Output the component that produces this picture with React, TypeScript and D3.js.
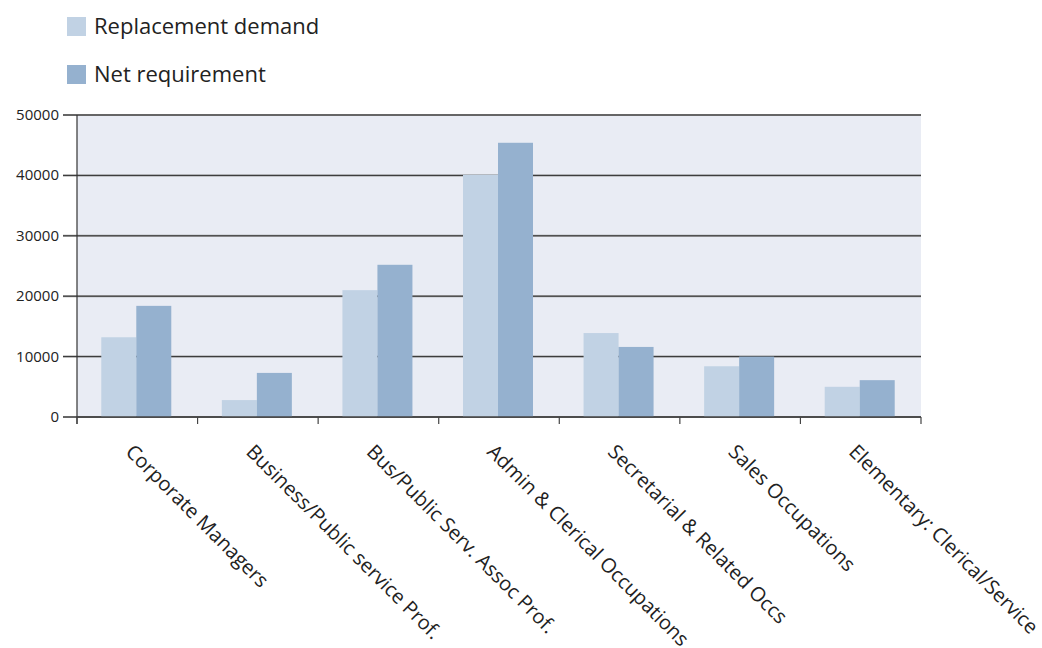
import React from "react";
import * as d3 from "d3";

const categories = [
  "Corporate Managers",
  "Business/Public service Prof.",
  "Bus/Public Serv. Assoc Prof.",
  "Admin & Clerical Occupations",
  "Secretarial & Related Occs",
  "Sales Occupations",
  "Elementary: Clerical/Service",
];
const seriesNames = ["Replacement demand", "Net requirement"];
const replacementDemand = [13200, 2800, 21000, 40100, 13900, 8400, 5000];
const netRequirement = [18400, 7300, 25200, 45400, 11600, 10000, 6100];
const yTicks = [0, 10000, 20000, 30000, 40000, 50000];
const colors = ["#c1d2e4", "#95b1cf"];

export default function App() {
  const W = 1042, H = 648;
  const left = 77, right = 921, top = 115, bottom = 417;
  const x = d3.scaleBand<string>().domain(categories).range([left, right]);
  const y = d3.scaleLinear().domain([0, 50000]).range([bottom, top]);
  const groupW = 70;
  const inner = d3.scaleBand<string>().domain(seriesNames).range([0, groupW]);
  const series = [replacementDemand, netRequirement];
  const font = "'Open Sans', sans-serif";
  const boundaries = d3.range(categories.length + 1).map((i) => left + i * x.bandwidth());

  return (
    <svg width={W} height={H} style={{ position: "absolute", left: 0, top: 0 }} fontFamily={font}>
      <rect x={0} y={0} width={W} height={H} fill="#fff" />
      {/* legend */}
      {seriesNames.map((s, i) => (
        <g key={s}>
          <rect x={67} y={17 + i * 48} width={19} height={19} fill={colors[i]} />
          <text x={94} y={34 + i * 48} fontSize={22} fill="#222">{s}</text>
        </g>
      ))}
      {/* plot background */}
      <rect x={left} y={top} width={right - left} height={bottom - top} fill="#e9ecf4" />
      {/* gridlines */}
      {yTicks.map((t) => (
        <g key={t}>
          <line x1={63} x2={right} y1={y(t)} y2={y(t)} stroke="#999" strokeWidth={2} />
          <line x1={63} x2={right} y1={y(t)} y2={y(t)} stroke="#333" strokeWidth={1} />
          <text x={59} y={y(t) + 5} fontSize={15} textAnchor="end" fill="#222">{t}</text>
        </g>
      ))}
      {/* bars */}
      {categories.map((c, ci) => (
        <g key={c} transform={`translate(${(x(c) as number) + x.bandwidth() / 2 - groupW / 2 - 1},0)`}>
          {series.map((vals, si) => (
            <rect
              key={si}
              x={inner(seriesNames[si]) as number}
              y={y(vals[ci])}
              width={inner.bandwidth()}
              height={bottom - y(vals[ci])}
              fill={colors[si]}
            />
          ))}
        </g>
      ))}
      {/* axes */}
      <line x1={left} x2={left} y1={top} y2={bottom + 7} stroke="#333" strokeWidth={1.2} />
      <line x1={left} x2={right} y1={bottom} y2={bottom} stroke="#444" strokeWidth={1.5} />
      {boundaries.map((b, i) => (
        <line key={i} x1={b} x2={b} y1={bottom} y2={bottom + 7} stroke="#444" strokeWidth={1.2} />
      ))}
      {/* x labels */}
      {categories.map((c) => {
        const cx = (x(c) as number) + x.bandwidth() / 2;
        return (
          <text
            key={c}
            transform={`translate(${cx - 1},${441}) rotate(45)`}
            fontSize={20}
            fill="#222"
            dominantBaseline="hanging"
          >
            {c}
          </text>
        );
      })}
    </svg>
  );
}
